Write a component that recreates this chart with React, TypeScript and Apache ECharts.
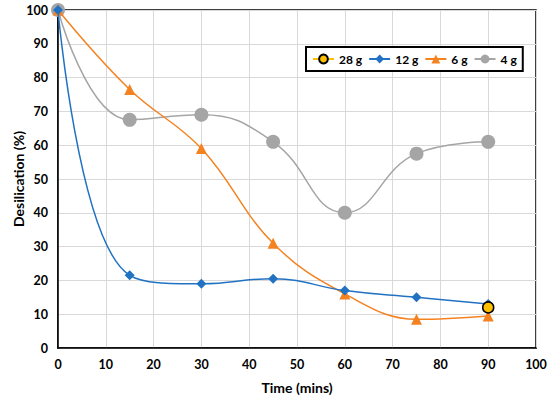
import React, { useEffect, useRef } from "react";
import * as echarts from "echarts";

const times = [0, 15, 30, 45, 60, 75, 90];
const s28 = [null, null, null, null, null, null, 12];
const s12 = [100, 21.5, 19, 20.5, 17, 15, 13];
const s6 = [100, 76.5, 59, 31, 16, 8.5, 9.5];
const s4 = [100, 67.5, 69, 61, 40, 57.5, 61];

const FONT = "Lato, 'Open Sans', sans-serif";

function pairs(vals: (number | null)[]) {
  return times.map((t, i) => [t, vals[i]]).filter((p) => p[1] !== null);
}

export default function App() {
  const ref = useRef<HTMLDivElement>(null);
  useEffect(() => {
    const chart = echarts.init(ref.current!, null, { renderer: "svg" });
    chart.setOption({
      animation: false,
      textStyle: { fontFamily: FONT },
      grid: {
        left: 58,
        right: 14,
        top: 10,
        bottom: 53,
        outerBoundsMode: "none",
        containLabel: false,
        show: true,
        borderColor: "#000",
        borderWidth: 1.5,
      },
      legend: {
        left: 306,
        top: 47,
        padding: [6, 6],
        itemGap: 6,
        itemWidth: 21,
        itemHeight: 11,
        borderColor: "#000",
        borderWidth: 2,
        backgroundColor: "#fff",
        textStyle: { fontFamily: FONT, fontWeight: "bold", fontSize: 12, color: "#000" },
        data: ["28 g", "12 g", "6 g", "4 g"],
      },
      xAxis: {
        type: "value",
        min: 0,
        max: 100,
        interval: 10,
        name: "Time (mins)",
        nameLocation: "middle",
        nameGap: 32,
        nameTextStyle: { fontFamily: FONT, fontWeight: "bold", fontSize: 14, color: "#000" },
        axisLine: { show: true, lineStyle: { color: "#000", width: 1.5 } },
        axisTick: { show: false },
        axisLabel: { fontFamily: FONT, fontWeight: "bold", fontSize: 12.5, color: "#000", margin: 10 },
        splitLine: { show: true, lineStyle: { color: "#d9d9d9", width: 1 } },
      },
      yAxis: {
        type: "value",
        min: 0,
        max: 100,
        interval: 10,
        name: "Desilication (%)",
        nameLocation: "middle",
        nameGap: 33,
        nameMoveOverlap: false,
        nameTextStyle: { fontFamily: FONT, fontWeight: "bold", fontSize: 14, color: "#000" },
        axisLine: { show: true, lineStyle: { color: "#000", width: 1.5 } },
        axisTick: { show: false },
        axisLabel: { fontFamily: FONT, fontWeight: "bold", fontSize: 12.5, color: "#000", margin: 10 },
        splitLine: { show: true, lineStyle: { color: "#d9d9d9", width: 1 } },
      },
      series: [
        {
          name: "28 g",
          type: "line",
          data: pairs(s28),
          symbol: "circle",
          symbolSize: 11,
          z: 5,
          itemStyle: { color: "#FFC000", borderColor: "#000", borderWidth: 1.5 },
          lineStyle: { color: "#FFC000", width: 1.5 },
        },
        {
          name: "12 g",
          type: "line",
          data: pairs(s12),
          smooth: 0.45,
          symbol: "diamond",
          symbolSize: 10,
          z: 4,
          itemStyle: { color: "#2272C3" },
          lineStyle: { color: "#2272C3", width: 1.5 },
        },
        {
          name: "6 g",
          type: "line",
          data: pairs(s6),
          smooth: 0.4,
          symbol: "triangle",
          symbolSize: 11,
          z: 3,
          itemStyle: { color: "#F58220" },
          lineStyle: { color: "#F58220", width: 1.5 },
        },
        {
          name: "4 g",
          type: "line",
          data: pairs(s4),
          smooth: 0.45,
          symbol: "circle",
          symbolSize: 14,
          z: 2,
          itemStyle: { color: "#A5A5A5" },
          lineStyle: { color: "#A5A5A5", width: 1.5 },
        },
      ],
    });
    return () => chart.dispose();
  }, []);
  return (
    <div
      ref={ref}
      style={{ position: "absolute", left: 0, top: 0, width: 550, height: 401 }}
    />
  );
}
